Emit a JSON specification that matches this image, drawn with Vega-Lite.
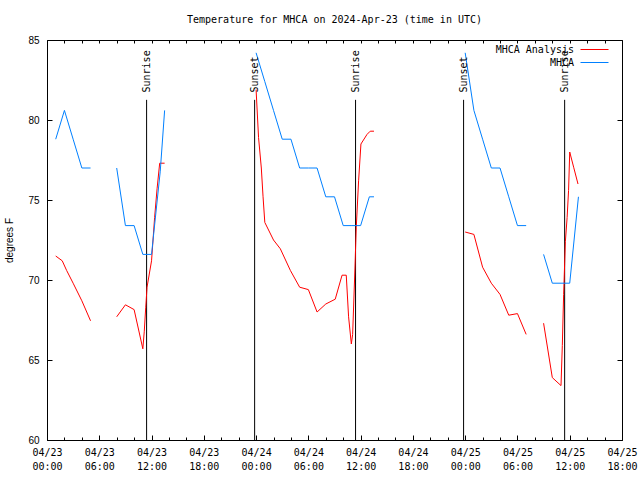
{
  "$schema": "https://vega.github.io/schema/vega-lite/v6.json",
  "autosize": "none",
  "padding": {"left": 47, "top": 40, "right": 18, "bottom": 40},
  "width": 575,
  "height": 400,
  "background": "white",
  "title": {"text": "Temperature for MHCA on 2024-Apr-23 (time in UTC)", "font": "DejaVu Sans Mono", "fontSize": 10, "fontWeight": "normal", "offset": 10, "anchor": "middle", "color": "black"},
  "config": {
    "view": {"stroke": "black", "strokeWidth": 1},
    "axis": {"grid": false, "domain": false, "tickColor": "black", "labelColor": "black", "titleColor": "black", "tickWidth": 1}
  },
  "datasets": {
    "obs": [
      {"t": "2024-04-23T01:00:00Z", "v": 71.5, "s": "MHCA Analysis", "g": "a1"},
      {"t": "2024-04-23T01:45:00Z", "v": 71.2, "s": "MHCA Analysis", "g": "a1"},
      {"t": "2024-04-23T02:15:00Z", "v": 70.6, "s": "MHCA Analysis", "g": "a1"},
      {"t": "2024-04-23T03:00:00Z", "v": 69.8, "s": "MHCA Analysis", "g": "a1"},
      {"t": "2024-04-23T04:00:00Z", "v": 68.7, "s": "MHCA Analysis", "g": "a1"},
      {"t": "2024-04-23T05:00:00Z", "v": 67.45, "s": "MHCA Analysis", "g": "a1"},
      {"t": "2024-04-23T08:00:00Z", "v": 67.7, "s": "MHCA Analysis", "g": "a2"},
      {"t": "2024-04-23T09:00:00Z", "v": 68.45, "s": "MHCA Analysis", "g": "a2"},
      {"t": "2024-04-23T10:00:00Z", "v": 68.15, "s": "MHCA Analysis", "g": "a2"},
      {"t": "2024-04-23T11:00:00Z", "v": 65.7, "s": "MHCA Analysis", "g": "a2"},
      {"t": "2024-04-23T11:10:00Z", "v": 66.8, "s": "MHCA Analysis", "g": "a2"},
      {"t": "2024-04-23T11:20:00Z", "v": 68.3, "s": "MHCA Analysis", "g": "a2"},
      {"t": "2024-04-23T11:29:00Z", "v": 69.55, "s": "MHCA Analysis", "g": "a2"},
      {"t": "2024-04-23T12:00:00Z", "v": 71.2, "s": "MHCA Analysis", "g": "a2"},
      {"t": "2024-04-23T12:21:00Z", "v": 73.9, "s": "MHCA Analysis", "g": "a2"},
      {"t": "2024-04-23T12:38:00Z", "v": 75.7, "s": "MHCA Analysis", "g": "a2"},
      {"t": "2024-04-23T12:56:00Z", "v": 77.3, "s": "MHCA Analysis", "g": "a2"},
      {"t": "2024-04-23T13:30:00Z", "v": 77.3, "s": "MHCA Analysis", "g": "a2"},
      {"t": "2024-04-24T00:00:00Z", "v": 81.9, "s": "MHCA Analysis", "g": "a3"},
      {"t": "2024-04-24T00:17:00Z", "v": 78.9, "s": "MHCA Analysis", "g": "a3"},
      {"t": "2024-04-24T00:36:00Z", "v": 77.0, "s": "MHCA Analysis", "g": "a3"},
      {"t": "2024-04-24T00:48:00Z", "v": 75.2, "s": "MHCA Analysis", "g": "a3"},
      {"t": "2024-04-24T01:00:00Z", "v": 73.6, "s": "MHCA Analysis", "g": "a3"},
      {"t": "2024-04-24T02:00:00Z", "v": 72.5, "s": "MHCA Analysis", "g": "a3"},
      {"t": "2024-04-24T02:47:00Z", "v": 71.95, "s": "MHCA Analysis", "g": "a3"},
      {"t": "2024-04-24T03:56:00Z", "v": 70.6, "s": "MHCA Analysis", "g": "a3"},
      {"t": "2024-04-24T05:00:00Z", "v": 69.55, "s": "MHCA Analysis", "g": "a3"},
      {"t": "2024-04-24T06:00:00Z", "v": 69.4, "s": "MHCA Analysis", "g": "a3"},
      {"t": "2024-04-24T07:00:00Z", "v": 68.0, "s": "MHCA Analysis", "g": "a3"},
      {"t": "2024-04-24T08:00:00Z", "v": 68.5, "s": "MHCA Analysis", "g": "a3"},
      {"t": "2024-04-24T09:05:00Z", "v": 68.8, "s": "MHCA Analysis", "g": "a3"},
      {"t": "2024-04-24T09:52:00Z", "v": 70.3, "s": "MHCA Analysis", "g": "a3"},
      {"t": "2024-04-24T10:21:00Z", "v": 70.3, "s": "MHCA Analysis", "g": "a3"},
      {"t": "2024-04-24T10:37:00Z", "v": 67.7, "s": "MHCA Analysis", "g": "a3"},
      {"t": "2024-04-24T10:56:00Z", "v": 66.0, "s": "MHCA Analysis", "g": "a3"},
      {"t": "2024-04-24T11:05:00Z", "v": 66.6, "s": "MHCA Analysis", "g": "a3"},
      {"t": "2024-04-24T11:18:00Z", "v": 70.0, "s": "MHCA Analysis", "g": "a3"},
      {"t": "2024-04-24T11:30:00Z", "v": 73.3, "s": "MHCA Analysis", "g": "a3"},
      {"t": "2024-04-24T11:46:00Z", "v": 76.2, "s": "MHCA Analysis", "g": "a3"},
      {"t": "2024-04-24T12:02:00Z", "v": 78.5, "s": "MHCA Analysis", "g": "a3"},
      {"t": "2024-04-24T12:44:00Z", "v": 79.1, "s": "MHCA Analysis", "g": "a3"},
      {"t": "2024-04-24T13:06:00Z", "v": 79.3, "s": "MHCA Analysis", "g": "a3"},
      {"t": "2024-04-24T13:32:00Z", "v": 79.3, "s": "MHCA Analysis", "g": "a3"},
      {"t": "2024-04-25T00:00:00Z", "v": 73.0, "s": "MHCA Analysis", "g": "a4"},
      {"t": "2024-04-25T01:00:00Z", "v": 72.85, "s": "MHCA Analysis", "g": "a4"},
      {"t": "2024-04-25T02:00:00Z", "v": 70.8, "s": "MHCA Analysis", "g": "a4"},
      {"t": "2024-04-25T03:00:00Z", "v": 69.8, "s": "MHCA Analysis", "g": "a4"},
      {"t": "2024-04-25T04:00:00Z", "v": 69.1, "s": "MHCA Analysis", "g": "a4"},
      {"t": "2024-04-25T05:00:00Z", "v": 67.8, "s": "MHCA Analysis", "g": "a4"},
      {"t": "2024-04-25T06:00:00Z", "v": 67.9, "s": "MHCA Analysis", "g": "a4"},
      {"t": "2024-04-25T07:00:00Z", "v": 66.6, "s": "MHCA Analysis", "g": "a4"},
      {"t": "2024-04-25T09:00:00Z", "v": 67.3, "s": "MHCA Analysis", "g": "a5"},
      {"t": "2024-04-25T10:00:00Z", "v": 63.9, "s": "MHCA Analysis", "g": "a5"},
      {"t": "2024-04-25T11:00:00Z", "v": 63.4, "s": "MHCA Analysis", "g": "a5"},
      {"t": "2024-04-25T11:09:00Z", "v": 65.9, "s": "MHCA Analysis", "g": "a5"},
      {"t": "2024-04-25T11:18:00Z", "v": 69.1, "s": "MHCA Analysis", "g": "a5"},
      {"t": "2024-04-25T11:30:00Z", "v": 72.4, "s": "MHCA Analysis", "g": "a5"},
      {"t": "2024-04-25T11:42:00Z", "v": 73.9, "s": "MHCA Analysis", "g": "a5"},
      {"t": "2024-04-25T11:52:00Z", "v": 75.6, "s": "MHCA Analysis", "g": "a5"},
      {"t": "2024-04-25T12:00:00Z", "v": 78.0, "s": "MHCA Analysis", "g": "a5"},
      {"t": "2024-04-25T12:27:00Z", "v": 77.05, "s": "MHCA Analysis", "g": "a5"},
      {"t": "2024-04-25T12:57:00Z", "v": 76.0, "s": "MHCA Analysis", "g": "a5"},
      {"t": "2024-04-23T01:00:00Z", "v": 78.8, "s": "MHCA", "g": "b1"},
      {"t": "2024-04-23T02:00:00Z", "v": 80.6, "s": "MHCA", "g": "b1"},
      {"t": "2024-04-23T03:00:00Z", "v": 78.8, "s": "MHCA", "g": "b1"},
      {"t": "2024-04-23T04:00:00Z", "v": 77.0, "s": "MHCA", "g": "b1"},
      {"t": "2024-04-23T05:00:00Z", "v": 77.0, "s": "MHCA", "g": "b1"},
      {"t": "2024-04-23T08:00:00Z", "v": 77.0, "s": "MHCA", "g": "b2"},
      {"t": "2024-04-23T09:00:00Z", "v": 73.4, "s": "MHCA", "g": "b2"},
      {"t": "2024-04-23T10:00:00Z", "v": 73.4, "s": "MHCA", "g": "b2"},
      {"t": "2024-04-23T11:00:00Z", "v": 71.6, "s": "MHCA", "g": "b2"},
      {"t": "2024-04-23T12:00:00Z", "v": 71.6, "s": "MHCA", "g": "b2"},
      {"t": "2024-04-23T13:00:00Z", "v": 76.8, "s": "MHCA", "g": "b2"},
      {"t": "2024-04-23T13:30:00Z", "v": 80.6, "s": "MHCA", "g": "b2"},
      {"t": "2024-04-24T00:00:00Z", "v": 84.2, "s": "MHCA", "g": "b3"},
      {"t": "2024-04-24T01:00:00Z", "v": 82.4, "s": "MHCA", "g": "b3"},
      {"t": "2024-04-24T02:00:00Z", "v": 80.6, "s": "MHCA", "g": "b3"},
      {"t": "2024-04-24T03:00:00Z", "v": 78.8, "s": "MHCA", "g": "b3"},
      {"t": "2024-04-24T04:00:00Z", "v": 78.8, "s": "MHCA", "g": "b3"},
      {"t": "2024-04-24T05:00:00Z", "v": 77.0, "s": "MHCA", "g": "b3"},
      {"t": "2024-04-24T06:00:00Z", "v": 77.0, "s": "MHCA", "g": "b3"},
      {"t": "2024-04-24T07:00:00Z", "v": 77.0, "s": "MHCA", "g": "b3"},
      {"t": "2024-04-24T08:00:00Z", "v": 75.2, "s": "MHCA", "g": "b3"},
      {"t": "2024-04-24T09:00:00Z", "v": 75.2, "s": "MHCA", "g": "b3"},
      {"t": "2024-04-24T10:00:00Z", "v": 73.4, "s": "MHCA", "g": "b3"},
      {"t": "2024-04-24T11:00:00Z", "v": 73.4, "s": "MHCA", "g": "b3"},
      {"t": "2024-04-24T12:00:00Z", "v": 73.4, "s": "MHCA", "g": "b3"},
      {"t": "2024-04-24T13:00:00Z", "v": 75.2, "s": "MHCA", "g": "b3"},
      {"t": "2024-04-24T13:32:00Z", "v": 75.2, "s": "MHCA", "g": "b3"},
      {"t": "2024-04-25T00:00:00Z", "v": 84.2, "s": "MHCA", "g": "b4"},
      {"t": "2024-04-25T01:00:00Z", "v": 80.6, "s": "MHCA", "g": "b4"},
      {"t": "2024-04-25T02:00:00Z", "v": 78.8, "s": "MHCA", "g": "b4"},
      {"t": "2024-04-25T03:00:00Z", "v": 77.0, "s": "MHCA", "g": "b4"},
      {"t": "2024-04-25T04:00:00Z", "v": 77.0, "s": "MHCA", "g": "b4"},
      {"t": "2024-04-25T05:00:00Z", "v": 75.2, "s": "MHCA", "g": "b4"},
      {"t": "2024-04-25T06:00:00Z", "v": 73.4, "s": "MHCA", "g": "b4"},
      {"t": "2024-04-25T07:00:00Z", "v": 73.4, "s": "MHCA", "g": "b4"},
      {"t": "2024-04-25T09:00:00Z", "v": 71.6, "s": "MHCA", "g": "b5"},
      {"t": "2024-04-25T10:00:00Z", "v": 69.8, "s": "MHCA", "g": "b5"},
      {"t": "2024-04-25T11:00:00Z", "v": 69.8, "s": "MHCA", "g": "b5"},
      {"t": "2024-04-25T12:00:00Z", "v": 69.8, "s": "MHCA", "g": "b5"},
      {"t": "2024-04-25T12:30:00Z", "v": 72.5, "s": "MHCA", "g": "b5"},
      {"t": "2024-04-25T13:00:00Z", "v": 75.2, "s": "MHCA", "g": "b5"}
    ],
    "sun": [
      {"t": "2024-04-23T11:26:00Z", "label": "Sunrise"},
      {"t": "2024-04-23T23:50:00Z", "label": "Sunset"},
      {"t": "2024-04-24T11:25:00Z", "label": "Sunrise"},
      {"t": "2024-04-24T23:49:00Z", "label": "Sunset"},
      {"t": "2024-04-25T11:25:00Z", "label": "Sunrise"}
    ]
  },
  "layer": [
    {
      "data": {"name": "sun"},
      "mark": {"type": "rule", "color": "black", "strokeWidth": 1},
      "encoding": {
        "x": {"field": "t", "type": "temporal", "axis": {"orient": "bottom", "title": null, "labels": false, "tickSize": -3, "domain": false,
          "values": [
            {"year": 2024, "month": 4, "date": 23, "hours": 0, "utc": true}, {"year": 2024, "month": 4, "date": 23, "hours": 2, "utc": true},
            {"year": 2024, "month": 4, "date": 23, "hours": 4, "utc": true}, {"year": 2024, "month": 4, "date": 23, "hours": 6, "utc": true},
            {"year": 2024, "month": 4, "date": 23, "hours": 8, "utc": true}, {"year": 2024, "month": 4, "date": 23, "hours": 10, "utc": true},
            {"year": 2024, "month": 4, "date": 23, "hours": 12, "utc": true}, {"year": 2024, "month": 4, "date": 23, "hours": 14, "utc": true},
            {"year": 2024, "month": 4, "date": 23, "hours": 16, "utc": true}, {"year": 2024, "month": 4, "date": 23, "hours": 18, "utc": true},
            {"year": 2024, "month": 4, "date": 23, "hours": 20, "utc": true}, {"year": 2024, "month": 4, "date": 23, "hours": 22, "utc": true},
            {"year": 2024, "month": 4, "date": 24, "hours": 0, "utc": true}, {"year": 2024, "month": 4, "date": 24, "hours": 2, "utc": true},
            {"year": 2024, "month": 4, "date": 24, "hours": 4, "utc": true}, {"year": 2024, "month": 4, "date": 24, "hours": 6, "utc": true},
            {"year": 2024, "month": 4, "date": 24, "hours": 8, "utc": true}, {"year": 2024, "month": 4, "date": 24, "hours": 10, "utc": true},
            {"year": 2024, "month": 4, "date": 24, "hours": 12, "utc": true}, {"year": 2024, "month": 4, "date": 24, "hours": 14, "utc": true},
            {"year": 2024, "month": 4, "date": 24, "hours": 16, "utc": true}, {"year": 2024, "month": 4, "date": 24, "hours": 18, "utc": true},
            {"year": 2024, "month": 4, "date": 24, "hours": 20, "utc": true}, {"year": 2024, "month": 4, "date": 24, "hours": 22, "utc": true},
            {"year": 2024, "month": 4, "date": 25, "hours": 0, "utc": true}, {"year": 2024, "month": 4, "date": 25, "hours": 2, "utc": true},
            {"year": 2024, "month": 4, "date": 25, "hours": 4, "utc": true}, {"year": 2024, "month": 4, "date": 25, "hours": 6, "utc": true},
            {"year": 2024, "month": 4, "date": 25, "hours": 8, "utc": true}, {"year": 2024, "month": 4, "date": 25, "hours": 10, "utc": true},
            {"year": 2024, "month": 4, "date": 25, "hours": 12, "utc": true}, {"year": 2024, "month": 4, "date": 25, "hours": 14, "utc": true},
            {"year": 2024, "month": 4, "date": 25, "hours": 16, "utc": true}, {"year": 2024, "month": 4, "date": 25, "hours": 18, "utc": true}
          ]}},
        "y": {"datum": 81.26, "type": "quantitative", "axis": {"orient": "right", "title": null, "labels": false, "tickSize": -5, "domain": false, "values": [60, 65, 70, 75, 80, 85]}},
        "y2": {"datum": 60}
      }
    },
    {
      "data": {"name": "obs"},
      "mark": {"type": "line", "strokeWidth": 1, "interpolate": "linear"},
      "encoding": {
        "x": {"field": "t", "type": "temporal",
          "scale": {"type": "utc", "domain": [{"year": 2024, "month": 4, "date": 23, "hours": 0, "utc": true}, {"year": 2024, "month": 4, "date": 25, "hours": 18, "utc": true}]},
          "axis": {"orient": "bottom", "title": null, "tickSize": -5, "domain": false, "labelPadding": 12, "labelFont": "DejaVu Sans Mono", "labelFontSize": 10, "labelLineHeight": 14, "labelOverlap": false, "labelFlush": false, "labelBound": false,
            "labelExpr": "[utcFormat(datum.value, '%m/%d'), utcFormat(datum.value, '%H:%M')]",
            "values": [
              {"year": 2024, "month": 4, "date": 23, "hours": 0, "utc": true}, {"year": 2024, "month": 4, "date": 23, "hours": 6, "utc": true},
              {"year": 2024, "month": 4, "date": 23, "hours": 12, "utc": true}, {"year": 2024, "month": 4, "date": 23, "hours": 18, "utc": true},
              {"year": 2024, "month": 4, "date": 24, "hours": 0, "utc": true}, {"year": 2024, "month": 4, "date": 24, "hours": 6, "utc": true},
              {"year": 2024, "month": 4, "date": 24, "hours": 12, "utc": true}, {"year": 2024, "month": 4, "date": 24, "hours": 18, "utc": true},
              {"year": 2024, "month": 4, "date": 25, "hours": 0, "utc": true}, {"year": 2024, "month": 4, "date": 25, "hours": 6, "utc": true},
              {"year": 2024, "month": 4, "date": 25, "hours": 12, "utc": true}, {"year": 2024, "month": 4, "date": 25, "hours": 18, "utc": true}
            ]}},
        "y": {"field": "v", "type": "quantitative",
          "scale": {"domain": [60, 85], "nice": false, "zero": false},
          "axis": {"orient": "left", "values": [60, 65, 70, 75, 80, 85], "tickSize": -5, "domain": false, "labelPadding": 13, "labelFont": "Liberation Sans", "labelFontSize": 10,
            "title": "degrees F", "titleFont": "Liberation Sans", "titleFontSize": 10, "titleFontWeight": "normal", "titlePadding": 13}},
        "color": {"field": "s", "type": "nominal",
          "scale": {"domain": ["MHCA Analysis", "MHCA"], "range": ["#ff0000", "#0080ff"]},
          "legend": {"orient": "none", "legendX": 540, "legendY": 2, "title": null, "padding": 0, "labelFont": "DejaVu Sans Mono", "labelFontSize": 10, "labelColor": "black",
            "symbolType": "M-2,0H2", "symbolSize": 196, "symbolStrokeWidth": 1, "symbolFillColor": "transparent", "labelAlign": "right", "labelOffset": -28, "rowPadding": 0}},
        "detail": {"field": "g"}
      }
    },
    {
      "data": {"name": "sun"},
      "mark": {"type": "text", "angle": 270, "align": "left", "baseline": "middle", "font": "DejaVu Sans Mono", "fontSize": 10, "color": "black"},
      "encoding": {
        "x": {"field": "t", "type": "temporal", "axis": {"orient": "top", "title": null, "labels": false, "tickSize": -3, "domain": false,
          "values": [
            {"year": 2024, "month": 4, "date": 23, "hours": 0, "utc": true}, {"year": 2024, "month": 4, "date": 23, "hours": 2, "utc": true},
            {"year": 2024, "month": 4, "date": 23, "hours": 4, "utc": true}, {"year": 2024, "month": 4, "date": 23, "hours": 6, "utc": true},
            {"year": 2024, "month": 4, "date": 23, "hours": 8, "utc": true}, {"year": 2024, "month": 4, "date": 23, "hours": 10, "utc": true},
            {"year": 2024, "month": 4, "date": 23, "hours": 12, "utc": true}, {"year": 2024, "month": 4, "date": 23, "hours": 14, "utc": true},
            {"year": 2024, "month": 4, "date": 23, "hours": 16, "utc": true}, {"year": 2024, "month": 4, "date": 23, "hours": 18, "utc": true},
            {"year": 2024, "month": 4, "date": 23, "hours": 20, "utc": true}, {"year": 2024, "month": 4, "date": 23, "hours": 22, "utc": true},
            {"year": 2024, "month": 4, "date": 24, "hours": 0, "utc": true}, {"year": 2024, "month": 4, "date": 24, "hours": 2, "utc": true},
            {"year": 2024, "month": 4, "date": 24, "hours": 4, "utc": true}, {"year": 2024, "month": 4, "date": 24, "hours": 6, "utc": true},
            {"year": 2024, "month": 4, "date": 24, "hours": 8, "utc": true}, {"year": 2024, "month": 4, "date": 24, "hours": 10, "utc": true},
            {"year": 2024, "month": 4, "date": 24, "hours": 12, "utc": true}, {"year": 2024, "month": 4, "date": 24, "hours": 14, "utc": true},
            {"year": 2024, "month": 4, "date": 24, "hours": 16, "utc": true}, {"year": 2024, "month": 4, "date": 24, "hours": 18, "utc": true},
            {"year": 2024, "month": 4, "date": 24, "hours": 20, "utc": true}, {"year": 2024, "month": 4, "date": 24, "hours": 22, "utc": true},
            {"year": 2024, "month": 4, "date": 25, "hours": 0, "utc": true}, {"year": 2024, "month": 4, "date": 25, "hours": 2, "utc": true},
            {"year": 2024, "month": 4, "date": 25, "hours": 4, "utc": true}, {"year": 2024, "month": 4, "date": 25, "hours": 6, "utc": true},
            {"year": 2024, "month": 4, "date": 25, "hours": 8, "utc": true}, {"year": 2024, "month": 4, "date": 25, "hours": 10, "utc": true},
            {"year": 2024, "month": 4, "date": 25, "hours": 12, "utc": true}, {"year": 2024, "month": 4, "date": 25, "hours": 14, "utc": true},
            {"year": 2024, "month": 4, "date": 25, "hours": 16, "utc": true}, {"year": 2024, "month": 4, "date": 25, "hours": 18, "utc": true}
          ]}},
        "y": {"datum": 81.72, "type": "quantitative", "axis": null},
        "text": {"field": "label", "type": "nominal"}
      }
    }
  ],
  "resolve": {"axis": {"x": "independent", "y": "independent"}}
}
